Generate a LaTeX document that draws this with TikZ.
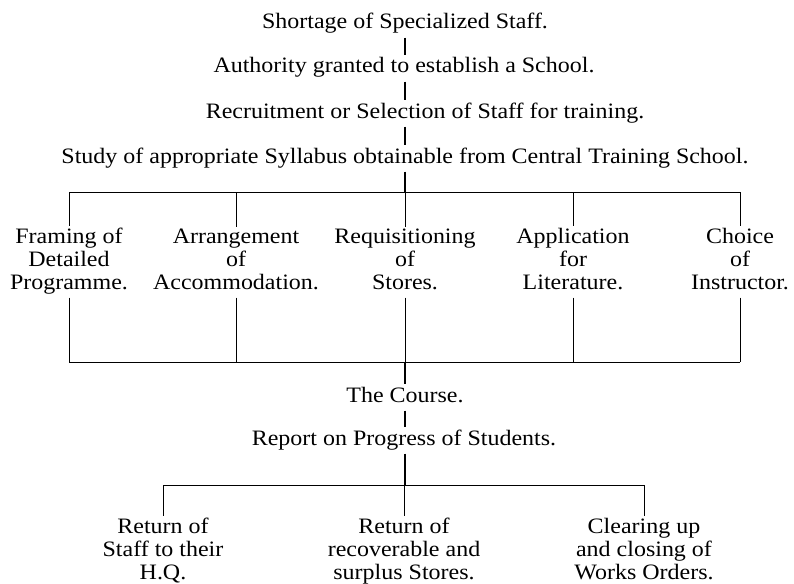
\documentclass[tikz,border=0pt]{standalone}
\usepackage{fontspec}
\setmainfont[FakeStretch=1.09]{Liberation Serif}

\begin{document}
\begin{tikzpicture}[
    x=1pt, y=-1pt,
    stage/.style={
        align=center, anchor=base,
        inner sep=1.5pt,
        font=\fontsize{22}{23}\selectfont,
        execute at begin node=\strut,
        execute at end node=\strut
    },
    stem/.style={line width=1.3pt},
    branch/.style={line width=0.7pt}
]
  \useasboundingbox (0,0) rectangle (794,583);

  % Main chain
  \node[stage] (shortage) at (405,29) {Shortage of Specialized Staff.};
  \node[stage] (authority) at (404,73) {Authority granted to establish a School.};
  \node[stage] (recruit) at (425,118) {Recruitment or Selection of Staff for training.};
  \node[stage] (study) at (405,163) {Study of appropriate Syllabus obtainable from Central Training School.};

  % Preparations (base = last line)
  \node[stage] (framing) at (69,289) {Framing of\\Detailed\\Programme.};
  \node[stage] (arrange) at (236,289) {Arrangement\\of\\Accommodation.};
  \node[stage] (stores) at (405,289) {Requisitioning\\of\\Stores.};
  \node[stage] (literature) at (573,289) {Application\\for\\Literature.};
  \node[stage] (instructor) at (740,289) {Choice\\of\\Instructor.};

  \node[stage] (course) at (405,402) {The Course.};
  \node[stage] (report) at (404,445) {Report on Progress of Students.};

  % Closing down
  \node[stage] (staffback) at (163,579) {Return of\\Staff to their\\H.Q.};
  \node[stage] (storesback) at (404,579) {Return of\\recoverable and\\surplus Stores.};
  \node[stage] (clearing) at (644,579) {Clearing up\\and closing of\\Works Orders.};

  % Bars
  \coordinate (axis) at (405,0);
  \coordinate (topbar) at (405,192);
  \coordinate (midbar) at (405,362);
  \coordinate (lowbar) at (405,485);

  % Stems down the middle
  \foreach \a/\b in {shortage.south/authority.north, authority.south/recruit.north,
      recruit.south/study.north, study.south/topbar, midbar/course.north,
      course.south/report.north, report.south/lowbar}
    \draw[stem] (axis |- \a) -- (axis |- \b);

  \draw[branch] (framing.north |- topbar) -- (instructor.north |- topbar);
  \draw[branch] (framing.south |- midbar) -- (instructor.south |- midbar);
  \foreach \n in {framing, arrange, stores, literature, instructor} {
    \draw[branch] (\n.north |- topbar) -- (\n.north);
    \draw[branch] (\n.south) -- (\n.south |- midbar);
  }

  \draw[branch] (staffback.north |- lowbar) -- (clearing.north |- lowbar);
  \foreach \n in {staffback, storesback, clearing}
    \draw[branch] (\n.north |- lowbar) -- (\n.north);

\end{tikzpicture}
\end{document}
